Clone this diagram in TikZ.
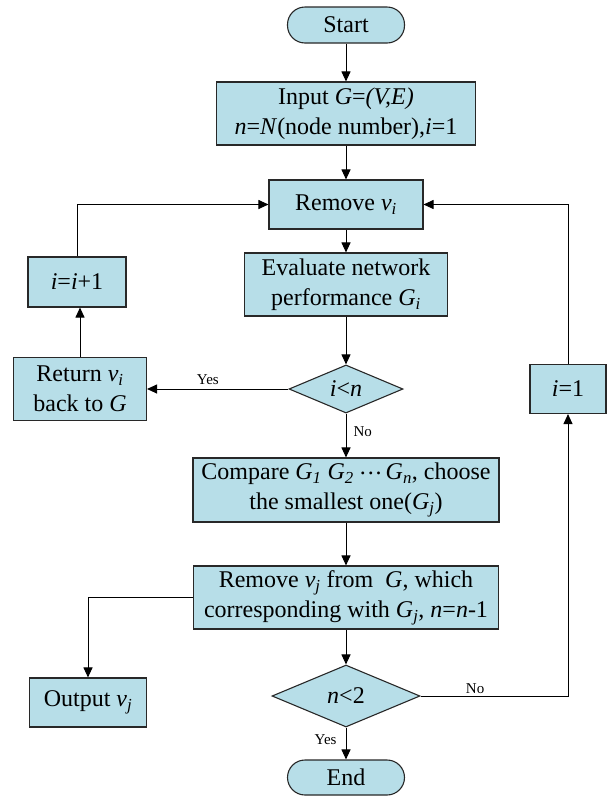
\documentclass[tikz,border=0pt]{standalone}
\usepackage{fontspec}
\setmainfont{Liberation Serif}
\usetikzlibrary{shapes.geometric,arrows.meta,calc}
\definecolor{boxblue}{RGB}{183,222,232}
\definecolor{edgegray}{RGB}{40,40,40}
\newcommand{\mycdots}{\raisebox{0.22em}{.\kern0.08em.\kern0.08em.}}
\newcommand{\sub}[1]{\textsubscript{\textit{#1}}}
\begin{document}
\begin{tikzpicture}[x=1pt,y=-1pt,
  every node/.style={font=\fontsize{24}{30}\selectfont},
  blk/.style={draw=edgegray, fill=boxblue, line width=1.1pt, align=center, inner sep=0pt},
  term/.style={blk, rounded corners=17.5pt},
  dec/.style={blk, diamond},
  lbl/.style={font=\fontsize{15}{18}\selectfont, inner sep=1pt},
  arr/.style={line width=1pt, -{Triangle[length=10pt,width=9pt]}}]
\useasboundingbox (0,0) rectangle (608,796);

\node[term, minimum width=117pt, minimum height=36pt] (start) at (346,25) {Start};
\node[blk, minimum width=259pt, minimum height=63pt] (input) at (346,113.5)
  {Input \textit{G}=\textit{(V,E)}\\\textit{n}=\textit{N}(node number),\textit{i}=1};
\node[blk, minimum width=154pt, minimum height=49pt] (remove) at (346,204.5) {Remove \textit{v}\sub{i}};
\node[blk, minimum width=203pt, minimum height=63pt] (eval) at (346,284.5)
  {Evaluate network\\performance \textit{G}\sub{i}};
\node[dec, minimum width=114pt, minimum height=48pt] (dec1) at (346,389) {\textit{i}<\textit{n}};
\node[blk, minimum width=306pt, minimum height=64pt] (compare) at (346,490)
  {Compare \textit{G}\sub{1} \textit{G}\sub{2} \mycdots\,\textit{G}\sub{n}, choose\\the smallest one(\textit{G}\sub{j})};
\node[blk, minimum width=305pt, minimum height=63pt] (removej) at (346,597.5)
  {Remove \textit{v}\sub{j} from\ \ \textit{G}, which\\corresponding with \textit{G}\sub{j}, \textit{n}=\textit{n}-1};
\node[dec, minimum width=148pt, minimum height=62pt] (dec2) at (346,696) {\textit{n}<2};
\node[term, minimum width=117pt, minimum height=35pt] (end) at (346,777.5) {End};
\node[blk, minimum width=98pt, minimum height=50pt] (iinc) at (77,282) {\textit{i}=\textit{i}+1};
\node[blk, minimum width=133pt, minimum height=63pt] (ret) at (80,389)
  {Return \textit{v}\sub{i}\\back to \textit{G}};
\node[blk, minimum width=76pt, minimum height=49pt] (ione) at (568,389) {\textit{i}=1};
\node[blk, minimum width=117pt, minimum height=49pt] (out) at (88,702.5) {Output \textit{v}\sub{j}};

\draw[arr] (start) -- (input);
\draw[arr] (input) -- (remove);
\draw[arr] (remove) -- (eval);
\draw[arr] (eval) -- (dec1);
\draw[arr] (dec1) -- node[lbl, above=3pt, pos=0.57]{Yes} (ret);
\draw[arr] (ret.north) -- (ret.north |- iinc.south);
\draw[arr] (iinc.north) |- (remove.west);
\draw[arr] (dec1) -- node[lbl, right=6pt, pos=0.42]{No} (compare);
\draw[arr] (compare) -- (removej);
\draw[arr] (removej) -- (dec2);
\draw[arr] (removej.west) -| (out.north);
\draw[arr] (dec2) -- node[lbl, left=8pt, pos=0.38]{Yes} (end);
\draw[arr] (dec2.east) -| node[lbl, above=1pt, pos=0.185]{No} (ione.south);
\draw[arr] (ione.north) |- (remove.east);
\end{tikzpicture}
\end{document}
